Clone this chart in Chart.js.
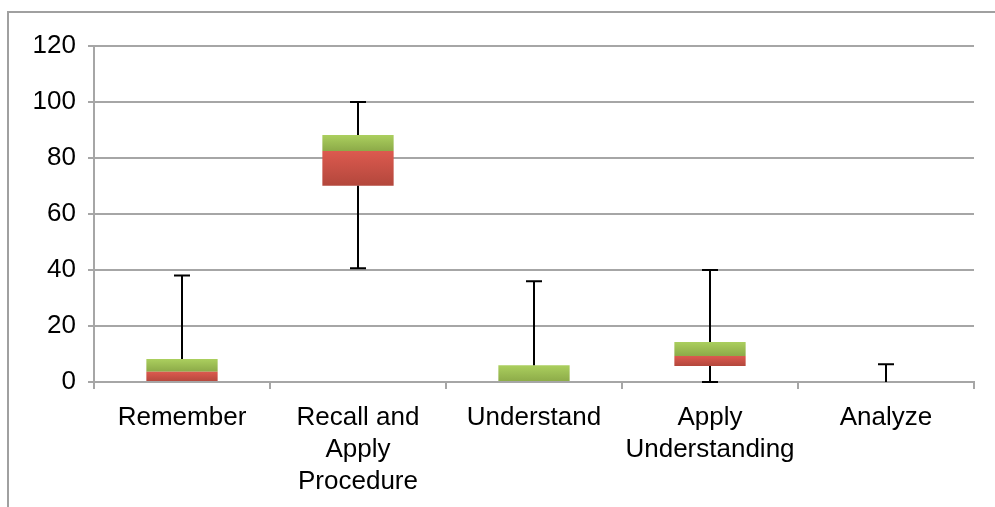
<!DOCTYPE html>
<html>
<head>
<meta charset="utf-8">
<script src="https://cdn.jsdelivr.net/npm/chart.js@4.4.1/dist/chart.umd.min.js"></script>
<style>
  html, body { margin: 0; padding: 0; background: #fff; }
  #wrap { position: relative; width: 995px; height: 507px; overflow: hidden; }
  #frame {
    position: absolute; left: 7px; top: 11px; width: 1100px; height: 600px;
    border-left: 2px solid #a0a0a0; border-top: 2px solid #a0a0a0;
  }
  canvas { position: absolute; left: 0; top: 0; }
</style>
</head>
<body>
<div id="wrap">
  <div id="frame"></div>
  <canvas id="boxChart" width="995" height="507"></canvas>
</div>
<script>
const categories = [
    'Remember',
    ['Recall and', 'Apply', 'Procedure'],
    'Understand',
    ['Apply', 'Understanding'],
    'Analyze'
];

const minValues    = [0, 40.6, 0, 0, 0];
const q1Values     = [0, 70.1, 0, 5.7, 0];
const medianValues = [3.7, 82.5, 0, 9.3, 0];
const q3Values     = [8.2, 88.2, 6, 14.3, 0];
const maxValues    = [38, 100, 36, 40, 6.3];

const yTicks = [0, 20, 40, 60, 80, 100, 120];

const gridGrey = '#a6a6a6';
const font = { family: '"Liberation Sans", Arial, sans-serif', size: 26 };

// gradient for a stacked segment between two values
function segmentFill(low, high, topColor, bottomColor) {
    return (ctx) => {
        const chart = ctx.chart;
        const y = chart.scales.y;
        if (!chart.chartArea || !y) return topColor;
        const i = ctx.dataIndex;
        const top = y.getPixelForValue(high[i]);
        const bottom = y.getPixelForValue(low[i]);
        if (bottom - top < 1) return topColor;
        const g = chart.ctx.createLinearGradient(0, top, 0, bottom);
        g.addColorStop(0, topColor);
        g.addColorStop(1, bottomColor);
        return g;
    };
}

const whiskers = {
    id: 'whiskers',
    afterDatasetsDraw(chart) {
        const { ctx, scales: { x, y } } = chart;
        const cap = 8;
        ctx.save();
        ctx.strokeStyle = '#000';
        ctx.lineWidth = 2;
        categories.forEach((c, i) => {
            const cx = Math.round(x.getPixelForValue(i));
            const pairs = [[q3Values[i], maxValues[i]], [q1Values[i], minValues[i]]];
            pairs.forEach(([from, to]) => {
                if (from === to) return;
                const y0 = y.getPixelForValue(from);
                const y1 = y.getPixelForValue(to);
                ctx.beginPath();
                ctx.moveTo(cx, y0);
                ctx.lineTo(cx, y1);
                ctx.moveTo(cx - cap, y1);
                ctx.lineTo(cx + cap, y1);
                ctx.stroke();
            });
        });
        ctx.restore();
    }
};

new Chart(document.getElementById('boxChart'), {
    type: 'bar',
    data: {
        labels: categories,
        datasets: [
            {
                data: q1Values,
                backgroundColor: 'rgba(0,0,0,0)'
            },
            {
                data: medianValues.map((m, i) => m - q1Values[i]),
                backgroundColor: segmentFill(q1Values, medianValues, '#dc5a4f', '#b3473c')
            },
            {
                data: q3Values.map((q, i) => q - medianValues[i]),
                backgroundColor: segmentFill(medianValues, q3Values, '#abcf5e', '#8caa48')
            }
        ]
    },
    options: {
        responsive: false,
        animation: false,
        events: [],
        layout: { padding: { top: 46, right: 21, left: 0, bottom: 0 } },
        datasets: {
            bar: { barPercentage: 0.5, categoryPercentage: 0.81, borderWidth: 0 }
        },
        plugins: {
            legend: { display: false },
            tooltip: { enabled: false }
        },
        scales: {
            x: {
                stacked: true,
                z: 1,
                grid: {
                    drawOnChartArea: false,
                    drawTicks: true,
                    tickLength: 7,
                    color: gridGrey,
                    lineWidth: 2
                },
                border: { color: gridGrey, width: 2 },
                ticks: {
                    color: '#000',
                    font: { ...font, lineHeight: 1.23 },
                    padding: 13,
                    maxRotation: 0,
                    autoSkip: false
                },
                afterFit: (scale) => { scale.height = 125; }
            },
            y: {
                stacked: true,
                min: 0,
                max: 120,
                afterBuildTicks: (scale) => { scale.ticks = yTicks.map(v => ({ value: v })); },
                grid: {
                    color: gridGrey,
                    lineWidth: 2,
                    tickLength: 6
                },
                border: { color: gridGrey, width: 2 },
                ticks: {
                    color: '#000',
                    font,
                    padding: 12
                },
                afterFit: (scale) => { scale.width = 94; }
            }
        }
    },
    plugins: [whiskers]
});
</script>
</body>
</html>
